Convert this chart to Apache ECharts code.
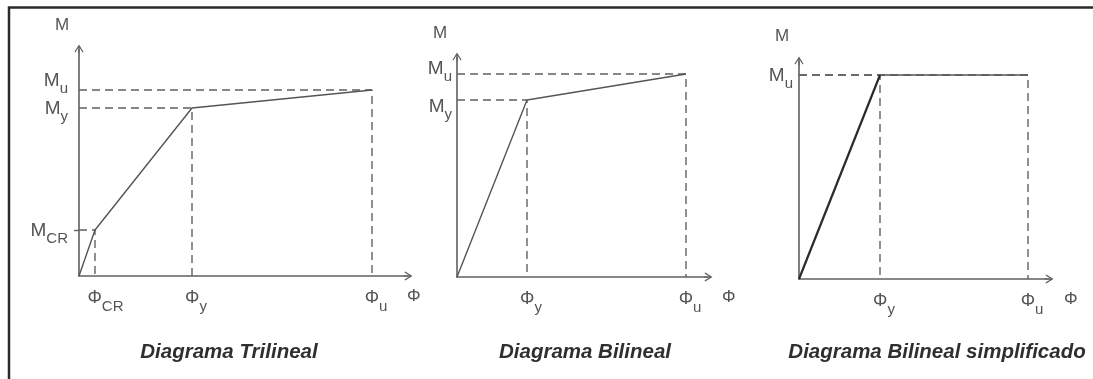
<!DOCTYPE html>
<html>
<head>
<meta charset="utf-8">
<script src="https://cdn.jsdelivr.net/npm/echarts@6/dist/echarts.min.js"></script>
<style>
  html, body { margin: 0; padding: 0; background: #fff; }
  #chart { width: 1093px; height: 379px; }
</style>
</head>
<body>
<div id="chart"></div>
<script>
// Trilinear moment–curvature law: origin, cracking, yield, ultimate
const triPhi = [0, 1.6, 11.3, 29.3];
const triM   = [0, 4.6, 16.8, 18.6];
const triSub = ['', 'CR', 'y', 'u'];

// Bilinear law: origin, yield, ultimate
const biPhi = [0, 7.0, 22.9];
const biM   = [0, 17.7, 20.3];
const biSub = ['', 'y', 'u'];

// Simplified bilinear (elastic – perfectly plastic): My coincides with Mu
const simPhi = [0, 8.1, 22.9];
const simM   = [0, 20.4, 20.4];
const simPhiSub = ['', 'y', 'u'];
const simMSub   = ['', 'u', 'u'];

// Axis extents (curvature, moment) of each diagram
const triExtent = [32.9, 22.7];
const biExtent  = [25.1, 22.0];
const simExtent = [25.0, 21.8];

// Axis names and diagram titles
const momentName = 'M';
const curvatureName = 'Φ';
const titles = ['Diagrama Trilineal', 'Diagrama Bilineal', 'Diagrama Bilineal simplificado'];

const TEXT = '#555555';
const LINE = '#606060';
const FONT = '"Liberation Sans", Arial, sans-serif';

// open chevron arrow head with a short stem so the axis runs up to the tip
const ARROW = 'path://M5,0 L10,8 L9,9 L5,2.6 L1,9 L0,8 Z M4.4,1 L5.6,1 L5.6,10 L4.4,10 Z';

// mGroups: moment labels sharing one y axis; close labels sit on separate, line-less
// axes; pad = [top, bottom] label padding used to nudge each group vertically
const panels = [
  { phi: triPhi, m: triM, phiSub: triSub, mSub: triSub, extent: triExtent,
    mGroups: [{ idx: [1, 2], pad: [5, 0] }, { idx: [3], pad: [0, 16] }], phiIdx: [1, 2, 3], mTick: [1],
    grid: { left: 79, top: 49, width: 329, height: 227 },
    labelMargin: 11, xNameGap: -1, yNameGap: 15, thickRise: false,
    titleX: 229 },
  { phi: biPhi, m: biM, phiSub: biSub, mSub: biSub, extent: biExtent,
    mGroups: [{ idx: [2], pad: [0, 8] }, { idx: [1], pad: [16, 0] }], phiIdx: [1, 2], mTick: [],
    grid: { left: 457, top: 57, width: 251, height: 220 },
    labelMargin: 5, xNameGap: 14, yNameGap: 15, thickRise: false,
    titleX: 585 },
  { phi: simPhi, m: simM, phiSub: simPhiSub, mSub: simMSub, extent: simExtent,
    mGroups: [{ idx: [2], pad: [4, 0] }], phiIdx: [1, 2], mTick: [],
    grid: { left: 799, top: 61, width: 250, height: 218 },
    labelMargin: 6, xNameGap: 15, yNameGap: 16, thickRise: true,
    titleX: 937 }
];

// rich styles: big symbol plus a lowered subscript
const yRich = {
  m: { fontSize: 19, lineHeight: 22, verticalAlign: 'top', color: TEXT, fontFamily: FONT },
  s: { fontSize: 15, lineHeight: 17, padding: [10, 0, 0, 0], verticalAlign: 'top', color: TEXT, fontFamily: FONT }
};
const xRich = {
  p:   { fontSize: 18, lineHeight: 20, verticalAlign: 'top', color: TEXT, fontFamily: FONT },
  s:   { fontSize: 15, lineHeight: 17, padding: [10, 0, 0, 0], verticalAlign: 'top', color: TEXT, fontFamily: FONT },
  w2:  { width: 21, lineHeight: 20, verticalAlign: 'top' },
  w1:  { width: 8, lineHeight: 20, verticalAlign: 'top' }
};

const grid = [], xAxis = [], yAxis = [], series = [], graphic = [];

panels.forEach((p, k) => {
  grid.push(Object.assign({ containLabel: false }, p.grid));

  xAxis.push({
    type: 'value', gridIndex: k, min: 0, max: p.extent[0],
    name: curvatureName, nameLocation: 'end', nameGap: p.xNameGap,
    nameTextStyle: { fontSize: 17, color: TEXT, fontFamily: FONT, align: 'left', verticalAlign: 'top', padding: [12, 0, 0, 0] },
    axisLine: { show: true, onZero: false, symbol: ['none', ARROW], symbolSize: [13, 9],
      lineStyle: { color: LINE, width: 1.6 } },
    axisTick: { show: false },
    splitLine: { show: false },
    axisLabel: {
      show: true, margin: 13, verticalAlign: 'top', hideOverlap: false, interval: 0,
      showMinLabel: true, showMaxLabel: true,
      customValues: p.phiIdx.map(i => p.phi[i]),
      formatter: v => {
        const i = p.phi.indexOf(v);
        const sub = p.phiSub[i];
        const pad = sub.length > 1 ? 'w2' : 'w1';
        return '{' + pad + '| }{p|Φ}{s|' + sub + '}';
      },
      rich: xRich
    }
  });
  const xIndex = xAxis.length - 1;
  const yIndex = yAxis.length;

  p.mGroups.forEach((grp, g) => {
    const primary = g === 0;
    yAxis.push({
      type: 'value', gridIndex: k, min: 0, max: p.extent[1], position: 'left', offset: 0,
      name: primary ? momentName : '', nameLocation: 'end', nameGap: p.yNameGap,
      nameTextStyle: { fontSize: 17, color: TEXT, fontFamily: FONT, align: 'center', verticalAlign: 'bottom', padding: [0, 34, 0, 0] },
      axisLine: { show: primary, onZero: false, symbol: ['none', ARROW], symbolSize: [13, 9],
        lineStyle: { color: LINE, width: 1.6 } },
      axisTick: { show: primary && p.mTick.length > 0, length: 5, inside: false,
        customValues: p.mTick.map(i => p.m[i]), lineStyle: { color: LINE, width: 1.4 } },
      splitLine: { show: false },
      axisLabel: {
        show: true, margin: p.labelMargin, align: 'right', verticalAlign: 'middle',
        hideOverlap: false, interval: 0, showMinLabel: true, showMaxLabel: true,
        padding: [grp.pad[0], 0, grp.pad[1], 0],
        customValues: grp.idx.map(i => p.m[i]),
        formatter: v => {
          const i = p.m.lastIndexOf(v);
          return '{m|M}{s|' + p.mSub[i] + '}';
        },
        rich: yRich
      }
    });
  });

  // dashed projections of every break point onto both axes
  for (let i = 1; i < p.phi.length; i++) {
    series.push({
      type: 'line', xAxisIndex: xIndex, yAxisIndex: yIndex, symbol: 'none', silent: true,
      data: [[0, p.m[i]], [p.phi[i], p.m[i]], [p.phi[i], 0]],
      lineStyle: { color: LINE, width: 1.4, type: [8, 5] }, z: 2
    });
  }

  // moment–curvature law
  const pts = p.phi.map((x, i) => [x, p.m[i]]);
  if (p.thickRise) {
    series.push({ type: 'line', xAxisIndex: xIndex, yAxisIndex: yIndex, symbol: 'none', silent: true,
      data: pts.slice(0, 2), lineStyle: { color: '#2a2a2a', width: 2.2 }, z: 3 });
    series.push({ type: 'line', xAxisIndex: xIndex, yAxisIndex: yIndex, symbol: 'none', silent: true,
      data: pts.slice(1), lineStyle: { color: '#555555', width: 1.6 }, z: 3 });
  } else {
    series.push({ type: 'line', xAxisIndex: xIndex, yAxisIndex: yIndex, symbol: 'none', silent: true,
      data: pts, lineStyle: { color: '#555555', width: 1.4 }, z: 3 });
  }

  graphic.push({
    type: 'text', x: p.titleX, y: 352, silent: true,
    style: { text: titles[k], fill: '#2f2f2f', textAlign: 'center', textVerticalAlign: 'middle',
      font: 'italic bold 20.5px ' + FONT }
  });
});

// surrounding frame
graphic.push({
  type: 'rect', silent: true, z: -1,
  shape: { x: 9, y: 7.5, width: 1110, height: 400 },
  style: { fill: 'none', stroke: '#2b2b2b', lineWidth: 2.5 }
});

const chart = echarts.init(document.getElementById('chart'), null, { renderer: 'canvas' });
chart.setOption({
  animation: false,
  backgroundColor: '#ffffff',
  grid, xAxis, yAxis, series, graphic
});
</script>
</body>
</html>
